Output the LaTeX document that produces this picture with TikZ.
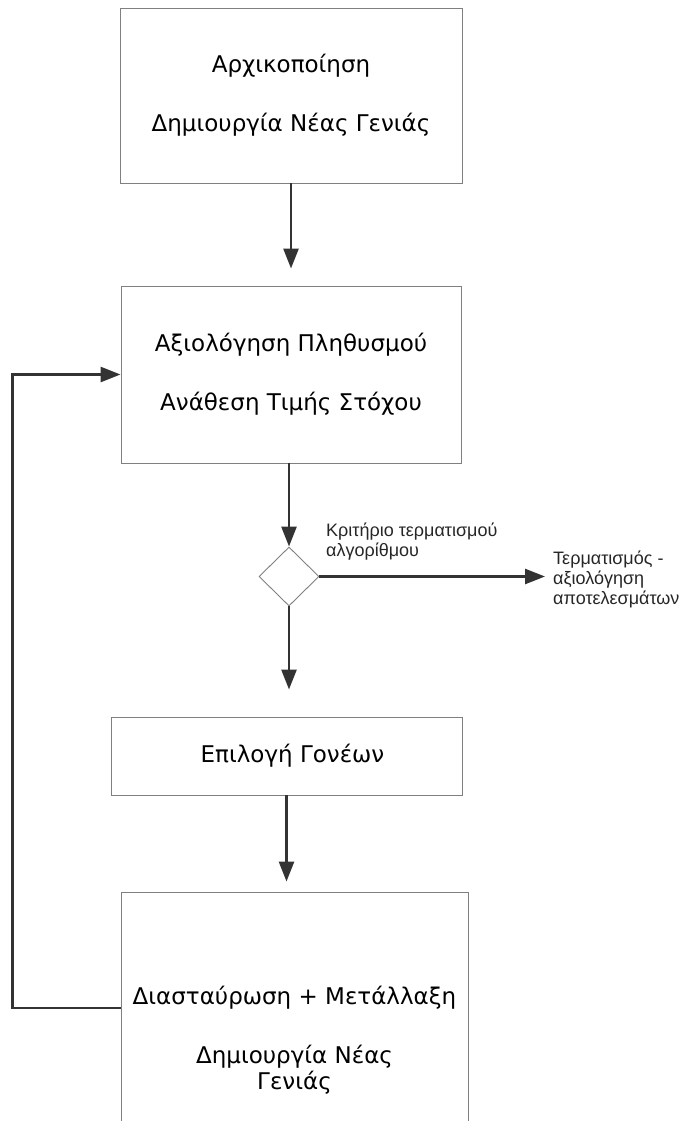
\documentclass[tikz,border=0pt]{standalone}
\usepackage{fontspec}
\setmainfont{DejaVu Sans}
\newfontfamily\notefont{Liberation Sans}
\usetikzlibrary{shapes.geometric, arrows.meta}

\begin{document}
\begin{tikzpicture}[x=1pt,y=-1pt,
  stepbox/.style={draw=black!50, line width=0.9pt, fill=white, align=center, inner sep=0pt,
    font=\fontsize{23}{26}\selectfont},
  testbox/.style={diamond, draw=black!50, line width=0.9pt, fill=white, inner sep=0pt,
    minimum width=60, minimum height=59},
  link/.style={draw=black!80, line width=2.6pt, -{Triangle[length=20pt,width=15pt]}},
  note/.style={font=\notefont\fontsize{18}{20}\selectfont, align=left, inner sep=0pt, text=black!85}]
\useasboundingbox (0,0) rectangle (685,1121);
\node[stepbox, minimum width=342, minimum height=175] (init) at (291,95.5)
  {Αρχικοποίηση\\[33pt]Δημιουργία Νέας Γενιάς};
\node[stepbox, minimum width=340, minimum height=177] (eval) at (291,374.5)
  {Αξιολόγηση Πληθυσμού\\[33pt]Ανάθεση Τιμής Στόχου};
\node[testbox] (test) at (289,576.5) {};
\node[note, anchor=west] (crit) at (326,542) {Κριτήριο τερματισμού\\αλγορίθμου};
\node[note, anchor=west] (stop) at (553,579) {Τερματισμός -\\αξιολόγηση\\αποτελεσμάτων};
\node[stepbox, minimum width=351, minimum height=78] (select) at (286.5,756)
  {\hspace*{12pt}Επιλογή Γονέων};
\node[stepbox, minimum width=347, minimum height=296] (breed) at (294.5,1040)
  {Διασταύρωση + Μετάλλαξη\\[33pt]Δημιουργία Νέας\\Γενιάς};
\draw[link, shorten >=17pt] (init.south) -- (init.south |- eval.north);
\draw[link] (test.north |- eval.south) -- (test.north);
\draw[link, shorten >=8pt] (test.east) -- (test.east -| stop.west);
\draw[link, shorten >=27pt] (test.south) -- (test.south |- select.north);
\draw[link, shorten >=10pt] (select.south) -- (select.south |- breed.north);
\draw[link] ([yshift=32pt]breed.west) -- ++(-108,0) |- (eval.west);
\end{tikzpicture}
\end{document}
